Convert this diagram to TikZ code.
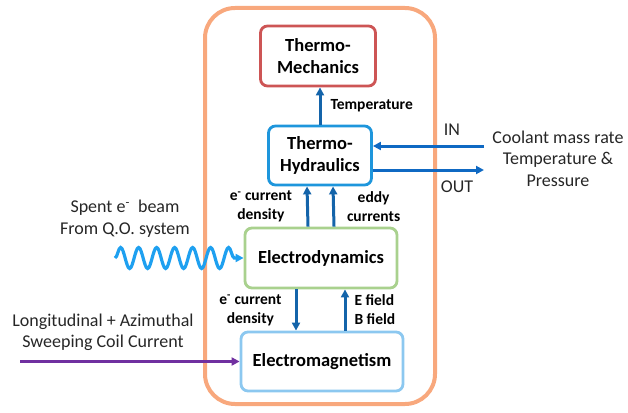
\documentclass[tikz,border=0pt]{standalone}
\usepackage{fontspec}
\setmainfont{Carlito}
\usepackage{xcolor}
\usetikzlibrary{arrows.meta,positioning,decorations.pathmorphing}

\definecolor{frameorange}{RGB}{248,168,125}
\definecolor{mechred}{RGB}{205,85,85}
\definecolor{hydroblue}{RGB}{30,150,220}
\definecolor{dyngreen}{RGB}{169,209,142}
\definecolor{emblue}{RGB}{140,200,240}
\definecolor{arrowblue}{RGB}{20,100,170}
\definecolor{coolblue}{RGB}{15,105,195}
\definecolor{beamblue}{RGB}{30,160,240}
\definecolor{coilpurple}{RGB}{112,48,160}

\begin{document}
\begin{tikzpicture}[x=1pt,y=-1pt,
  every node/.style={font=\fontsize{18}{21.5}\selectfont,text=black!85,align=center},
  block/.style={draw,rounded corners=7pt,line width=2.8pt,fill=white,
    font=\bfseries\fontsize{18.5}{22}\selectfont,text=black,inner sep=0pt},
  flow/.style={-{Triangle[length=8pt,width=8pt]},line width=3pt,draw=arrowblue},
  lab/.style={font=\bfseries\fontsize{15.5}{19}\selectfont,inner sep=0pt,text=black},
]
\useasboundingbox (0,0) rectangle (628,412);
% ---- outer frame ----
\draw[frameorange,line width=4pt,rounded corners=30pt] (205,8) rectangle (435,404);
% ---- physics blocks ----
\node[block,draw=mechred,minimum width=115pt,minimum height=60pt]  (tm) at (318,56)    {Thermo-\\Mechanics};
\node[block,draw=hydroblue,minimum width=103pt,minimum height=59pt] (th) at (320,155.5) {Thermo-\\Hydraulics};
\node[block,draw=dyngreen,minimum width=152pt,minimum height=60pt] (ed) at (321,258)   {Electrodynamics};
\node[block,draw=emblue,minimum width=162pt,minimum height=59pt]   (em) at (322,361.5) {Electromagnetism};
% ---- couplings ----
\draw[flow] (th.north) -- (th.north |- tm.south)
  node[midway,right=9pt,lab]{Temperature};
\draw[flow] ([xshift=-13pt]ed.north) -- ([xshift=-13pt]th.south)
  node[midway,left=14pt,lab]{e\textsuperscript{-} current\\density};
\draw[flow] ([xshift=13pt]ed.north) -- ([xshift=13pt]th.south)
  node[midway,right=12pt,lab]{eddy\\currents};
\draw[flow] ([xshift=-25pt]ed.south) -- ([xshift=-25pt]ed.south |- em.north)
  node[midway,left=13pt,lab]{e\textsuperscript{-} current\\density};
\draw[flow] ([xshift=24pt]ed.south |- em.north) -- ([xshift=24pt]ed.south)
  node[midway,right=8pt,lab,align=left]{E field\\B field};
% ---- coolant in / out ----
\coordinate (inR)  at (484,146);
\coordinate (outR) at (484,170);
\draw[flow,draw=coolblue] (inR) -- (inR -| th.east);
\draw[flow,draw=coolblue] (th.east |- outR) -- (outR);
\node (inlab)  at (452,130) {IN};
\node (outlab) at (457,187) {OUT};
\node (cool)   at (558,158.5) {Coolant mass rate\\Temperature \&\\Pressure};
% ---- spent beam ----
\coordinate (beamL) at (115,258);
\draw[beamblue,line width=3.2pt,-{Triangle[length=8pt,width=8pt]},decorate,
  decoration={snake,segment length=18pt,amplitude=10.5pt,post length=6pt}]
  (beamL) -- (ed.west);
\node (spent) at (125,218.5) {Spent e\textsuperscript{-}\ \ beam\\From Q.O. system};
% ---- sweeping coil ----
\coordinate (coilL) at (20,361.5);
\draw[coilpurple,line width=2.6pt,-{Triangle[length=8pt,width=8pt]}] (coilL) -- (em.west);
\node (coil) at (103,332.5) {Longitudinal + Azimuthal\\Sweeping Coil Current};
\end{tikzpicture}
\end{document}
